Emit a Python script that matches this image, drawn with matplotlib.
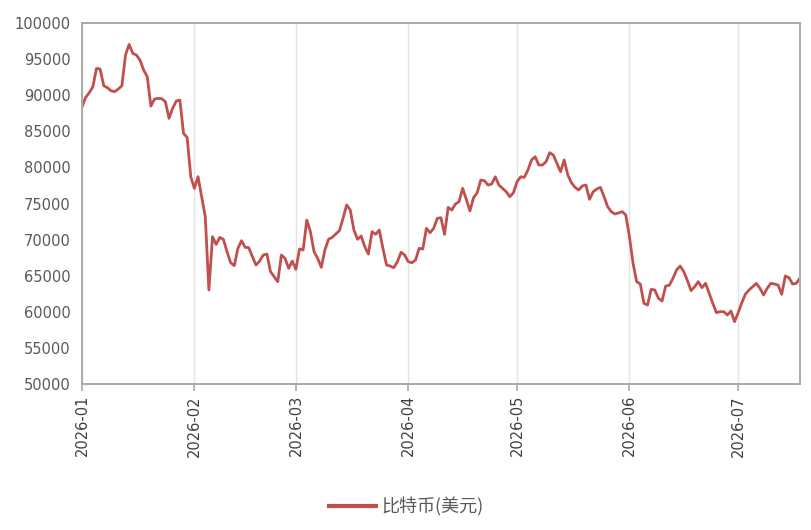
import matplotlib

matplotlib.use("Agg")
import matplotlib.pyplot as plt
import matplotlib.dates as mdates
import numpy as np
import pandas as pd

plt.rcParams["font.family"] = ["DejaVu Sans"]

START = "2026-01-01"

# price, one value per day from 2026-01-01
prices = [
    88400, 89700, 90350, 91180, 93720, 93630, 91320, 91040, 90630, 90490,
    90860, 91320, 95570, 97040, 95800, 95570, 94870, 93490, 92570, 88500,
    89470, 89570, 89520, 89100, 86800, 88180, 89200, 89330, 84720, 84160,
    78720, 77100, 78720, 75950, 73170, 63020, 70400, 69340, 70310, 70030,
    68330, 66800, 66390, 68790, 69850, 68930, 68880, 67630, 66480, 67030,
    67870, 68000, 65560, 64860, 64170, 67870, 67400, 66020, 67030, 65880,
    68700, 68560, 72710, 71100, 68330, 67400, 66160, 68560, 70040, 70310,
    70775, 71240, 72950, 74790, 74100, 71330, 70040, 70500, 69020, 68000,
    71100, 70730, 71330, 68790, 66480, 66340, 66110, 66940, 68240, 67870,
    66940, 66800, 67170, 68790, 68700, 71560, 70960, 71560, 72950, 73030,
    70730, 74470, 74100, 74930, 75250, 77100, 75580, 73960, 75800, 76500,
    78260, 78160, 77560, 77700, 78700, 77560, 77100, 76640, 75940, 76500,
    78020, 78700, 78630, 79640, 81030, 81480, 80330, 80330, 80790, 82040,
    81720, 80570, 79400, 81030, 78950, 77880, 77240, 76870, 77430, 77570,
    75580, 76640, 77010, 77240, 75950, 74560, 73870, 73550, 73700, 73870,
    73410, 70410, 66710, 64170, 63850, 61170, 60940, 63110, 63020, 61860,
    61500, 63570, 63670, 64630, 65790, 66340, 65560, 64310, 62930, 63480,
    64170, 63340, 63940, 62560, 61170, 59880, 60020, 60020, 59560, 60110,
    58630, 59880, 61260, 62460, 63020, 63480, 63940, 63250, 62330, 63250,
    63940, 63850, 63710, 62420, 64960, 64730, 63850, 63940, 64630,
]
dates = pd.date_range(START, periods=len(prices), freq="D")
month_ticks = pd.date_range(START, "2026-07-01", freq="MS")
y_ticks = list(range(50000, 100001, 5000))
series_name = "比特币(美元)"

LINE = "#c0504d"
FRAME = "#aaaaaa"
TEXT = "#595959"

fig = plt.figure(figsize=(8.12, 5.30), dpi=100)
ax = fig.add_axes([0.101, 0.2755, 0.884, 0.681])

ax.plot(dates, prices, color=LINE, lw=2.0, label=series_name, solid_joinstyle="round")

ax.set_ylim(50000, 100000)
ax.set_yticks(y_ticks)
ax.set_xlim(dates[0], dates[-1])
ax.set_xticks(month_ticks)
ax.xaxis.set_major_formatter(mdates.DateFormatter("%Y-%m"))

ax.grid(axis="x", color="#e3e3e3", lw=1.0)
ax.set_axisbelow(True)
for side in ax.spines.values():
    side.set_color(FRAME)
    side.set_linewidth(1.4)

ax.tick_params(axis="y", length=0, pad=8, labelsize=10.5, labelcolor=TEXT)
ax.tick_params(axis="x", length=5, width=1.2, color=FRAME, pad=3,
               labelsize=10.5, labelcolor="#404040", labelrotation=90)

leg = fig.legend(loc="lower center", bbox_to_anchor=(0.5, -0.005), frameon=False,
                 handlelength=2.6, handletextpad=0.3,
                 prop={"family": ["Noto Sans CJK SC", "DejaVu Sans"], "size": 13})
for t in leg.get_texts():
    t.set_color(TEXT)
for h in leg.get_lines():
    h.set_linewidth(3.0)

fig.savefig("out.png", dpi=100)
